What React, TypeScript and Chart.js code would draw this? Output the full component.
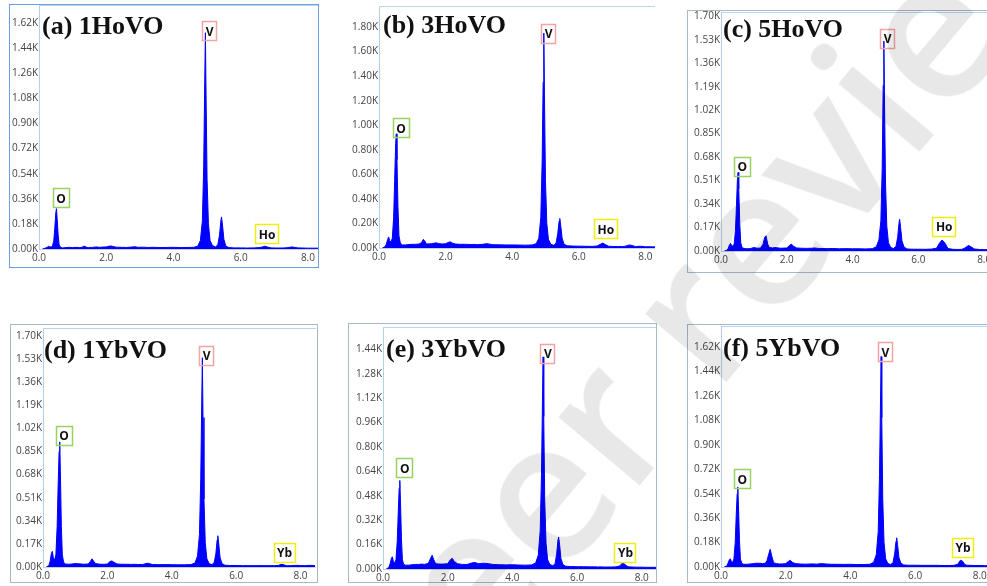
import React, { useEffect, useRef } from 'react';
import { Chart, registerables } from 'chart.js';

Chart.register(...registerables);

// ---------- DATA ----------
// shared energy grid (keV)
const energy = [
  0.10, 0.18, 0.22, 0.26, 0.29, 0.32, 0.36, 0.40, 0.44, 0.47, 0.50, 0.52, 0.54, 0.57, 0.60, 0.64, 0.70,
  0.80, 0.90, 1.00, 1.10, 1.20, 1.28, 1.33, 1.37, 1.42, 1.47, 1.52, 1.57, 1.63, 1.72, 1.80, 1.90, 2.00, 2.08, 2.14, 2.20, 2.30, 2.45, 2.60, 2.75, 2.85, 2.95, 3.10, 3.25, 3.40, 3.60, 3.80, 4.00, 4.20, 4.40, 4.60,
  4.72, 4.80, 4.86, 4.90, 4.93, 4.95, 4.97, 5.00, 5.04, 5.09, 5.16, 5.25, 5.32, 5.37, 5.41, 5.43, 5.46, 5.50, 5.56, 5.65,
  5.80, 6.00, 6.20, 6.40, 6.55, 6.65, 6.72, 6.80, 6.90, 7.05, 7.20, 7.32, 7.40, 7.46, 7.53, 7.60, 7.70, 7.85, 8.00, 8.15, 8.30, 8.45,
];

// counts (K)
const counts1HoVO = [
  0, 0.005, 0.01, 0.015, 0.02, 0.015, 0.015, 0.02, 0.06, 0.15, 0.26, 0.29, 0.22, 0.10, 0.03, 0.012, 0.008,
  0.01, 0.012, 0.01, 0.012, 0.01, 0.012, 0.02, 0.018, 0.012, 0.01, 0.012, 0.011, 0.013, 0.015, 0.012, 0.014, 0.015, 0.02, 0.022, 0.018, 0.013, 0.012, 0.011, 0.014, 0.016, 0.012, 0.013, 0.011, 0.012, 0.01, 0.011, 0.012, 0.01, 0.011, 0.012,
  0.02, 0.06, 0.2, 0.6, 1.2, 1.55, 1.1, 0.5, 0.18, 0.06, 0.025, 0.015, 0.03, 0.1, 0.2, 0.23, 0.17, 0.07, 0.02, 0.01,
  0.008, 0.008, 0.007, 0.008, 0.01, 0.015, 0.02, 0.014, 0.008, 0.007, 0.007, 0.008, 0.01, 0.012, 0.015, 0.012, 0.008, 0.007, 0.006, 0.006, 0.006, 0.006,
];
const counts3HoVO = [
  0, 0.01, 0.03, 0.07, 0.09, 0.06, 0.05, 0.08, 0.25, 0.55, 0.85, 0.93, 0.72, 0.33, 0.1, 0.04, 0.025,
  0.025, 0.028, 0.03, 0.03, 0.032, 0.045, 0.07, 0.06, 0.035, 0.033, 0.035, 0.034, 0.038, 0.042, 0.035, 0.033, 0.035, 0.045, 0.05, 0.04, 0.032, 0.03, 0.03, 0.028, 0.029, 0.027, 0.03, 0.035, 0.027, 0.026, 0.025, 0.025, 0.024, 0.023, 0.025,
  0.035, 0.08, 0.25, 0.7, 1.35, 1.75, 1.25, 0.55, 0.2, 0.07, 0.03, 0.022, 0.04, 0.12, 0.22, 0.24, 0.18, 0.08, 0.03, 0.018,
  0.016, 0.015, 0.014, 0.013, 0.016, 0.03, 0.04, 0.028, 0.014, 0.012, 0.012, 0.012, 0.015, 0.02, 0.025, 0.02, 0.012, 0.014, 0.01, 0.01, 0.009, 0.009,
];
const counts5HoVO = [
  0, 0.005, 0.02, 0.045, 0.055, 0.04, 0.035, 0.05, 0.15, 0.33, 0.52, 0.57, 0.45, 0.2, 0.06, 0.025, 0.018,
  0.016, 0.018, 0.025, 0.02, 0.022, 0.05, 0.1, 0.11, 0.05, 0.025, 0.024, 0.022, 0.025, 0.023, 0.02, 0.021, 0.022, 0.04, 0.05, 0.035, 0.022, 0.02, 0.019, 0.02, 0.022, 0.019, 0.018, 0.017, 0.018, 0.016, 0.017, 0.016, 0.016, 0.015, 0.017,
  0.03, 0.08, 0.22, 0.6, 1.2, 1.52, 1.1, 0.5, 0.18, 0.06, 0.025, 0.018, 0.035, 0.1, 0.2, 0.23, 0.17, 0.075, 0.03, 0.015,
  0.013, 0.013, 0.012, 0.014, 0.02, 0.06, 0.08, 0.06, 0.018, 0.012, 0.011, 0.012, 0.02, 0.03, 0.04, 0.03, 0.015, 0.011, 0.01, 0.01, 0.009, 0.009,
];
const counts1YbVO = [
  0, 0.01, 0.04, 0.1, 0.115, 0.07, 0.05, 0.09, 0.3, 0.6, 0.85, 0.92, 0.7, 0.3, 0.09, 0.035, 0.022,
  0.02, 0.022, 0.025, 0.024, 0.022, 0.02, 0.022, 0.021, 0.025, 0.04, 0.06, 0.045, 0.025, 0.022, 0.02, 0.02, 0.022, 0.04, 0.045, 0.035, 0.022, 0.02, 0.02, 0.019, 0.02, 0.018, 0.019, 0.028, 0.018, 0.017, 0.018, 0.017, 0.016, 0.016, 0.018,
  0.03, 0.08, 0.24, 0.65, 1.2, 1.54, 1.1, 0.5, 0.18, 0.06, 0.025, 0.017, 0.035, 0.1, 0.2, 0.23, 0.17, 0.07, 0.025, 0.013,
  0.011, 0.011, 0.01, 0.01, 0.01, 0.01, 0.011, 0.01, 0.01, 0.01, 0.01, 0.012, 0.02, 0.018, 0.012, 0.01, 0.01, 0.012, 0.011, 0.01, 0.012, 0.01,
];
const counts3YbVO = [
  0, 0.01, 0.035, 0.07, 0.08, 0.05, 0.04, 0.06, 0.18, 0.36, 0.53, 0.58, 0.45, 0.2, 0.06, 0.03, 0.025,
  0.025, 0.028, 0.03, 0.03, 0.032, 0.03, 0.033, 0.035, 0.045, 0.07, 0.09, 0.06, 0.035, 0.033, 0.032, 0.033, 0.035, 0.06, 0.07, 0.05, 0.035, 0.03, 0.03, 0.04, 0.042, 0.035, 0.038, 0.035, 0.03, 0.028, 0.027, 0.028, 0.026, 0.025, 0.027,
  0.04, 0.09, 0.25, 0.62, 1.1, 1.39, 1.0, 0.45, 0.17, 0.06, 0.03, 0.022, 0.035, 0.1, 0.19, 0.21, 0.16, 0.07, 0.03, 0.018,
  0.016, 0.015, 0.015, 0.014, 0.014, 0.013, 0.014, 0.013, 0.013, 0.013, 0.014, 0.02, 0.04, 0.035, 0.02, 0.014, 0.013, 0.012, 0.012, 0.011, 0.011, 0.011,
];
const counts5YbVO = [
  0, 0.008, 0.03, 0.055, 0.06, 0.04, 0.035, 0.06, 0.18, 0.38, 0.54, 0.59, 0.46, 0.2, 0.06, 0.028, 0.02,
  0.02, 0.022, 0.025, 0.028, 0.027, 0.025, 0.026, 0.028, 0.045, 0.09, 0.13, 0.08, 0.03, 0.025, 0.022, 0.023, 0.025, 0.04, 0.05, 0.035, 0.025, 0.022, 0.021, 0.022, 0.023, 0.021, 0.025, 0.022, 0.02, 0.02, 0.019, 0.02, 0.018, 0.018, 0.02,
  0.035, 0.09, 0.26, 0.68, 1.2, 1.55, 1.1, 0.5, 0.18, 0.06, 0.025, 0.018, 0.035, 0.1, 0.19, 0.215, 0.16, 0.07, 0.028, 0.015,
  0.013, 0.013, 0.012, 0.012, 0.012, 0.012, 0.012, 0.011, 0.011, 0.011, 0.012, 0.02, 0.05, 0.045, 0.02, 0.013, 0.012, 0.011, 0.011, 0.01, 0.01, 0.01,
];

// tick values
const xTicks = [0, 2, 4, 6, 8];
const yTicksStep18 = [0, 0.18, 0.36, 0.54, 0.72, 0.9, 1.08, 1.26, 1.44, 1.62];
const yTicksStep20 = [0, 0.2, 0.4, 0.6, 0.8, 1.0, 1.2, 1.4, 1.6, 1.8];
const yTicksStep17 = [0, 0.17, 0.34, 0.51, 0.68, 0.85, 1.02, 1.19, 1.36, 1.53, 1.7];
const yTicksStep16 = [0, 0.16, 0.32, 0.48, 0.64, 0.8, 0.96, 1.12, 1.28, 1.44];

const titles = ['(a) 1HoVO', '(b) 3HoVO', '(c) 5HoVO', '(d) 1YbVO', '(e) 3YbVO', '(f) 5YbVO'];

const GREEN = '#97d45c';
const RED = '#f2a4a4';
const YELLOW = '#eeee10';

type Lbl = { t: string; x: number; y: number; c: string };
type Box = { l: number; t: number; r: number; b: number };
type PanelCfg = {
  title: string;
  counts: number[];
  yTicks: number[];
  xMax: number;
  yMax: number;
  plot: Box;
  frame: (Box & { color: string }) | null;
  titleDx: number;
  titleDy: number;
  labels: Lbl[];
};

const panels: PanelCfg[] = [
  {
    title: titles[0], counts: counts1HoVO, yTicks: yTicksStep18, xMax: 8.3, yMax: 1.749,
    plot: { l: 39, t: 5, r: 318, b: 249 },
    frame: { l: 9, t: 4, r: 319, b: 268, color: '#6e9fd9' },
    titleDx: 3, titleDy: 29,
    labels: [
      { t: 'O', x: 0.64, y: 0.366, c: GREEN },
      { t: 'V', x: 5.06, y: 1.563, c: RED },
      { t: 'Ho', x: 6.77, y: 0.108, c: YELLOW },
    ],
  },
  {
    title: titles[1], counts: counts3HoVO, yTicks: yTicksStep20, xMax: 8.29, yMax: 1.971,
    plot: { l: 379, t: 6, r: 655, b: 248 },
    frame: null,
    titleDx: 4, titleDy: 27,
    labels: [
      { t: 'O', x: 0.65, y: 0.979, c: GREEN },
      { t: 'V', x: 5.08, y: 1.748, c: RED },
      { t: 'Ho', x: 6.8, y: 0.155, c: YELLOW },
    ],
  },
  {
    title: titles[2], counts: counts5HoVO, yTicks: yTicksStep17, xMax: 8.42, yMax: 1.731,
    plot: { l: 721, t: 12, r: 998, b: 251 },
    frame: { l: 687, t: 10, r: 1010, b: 273, color: '#a8b8cd' },
    titleDx: 2, titleDy: 25,
    labels: [
      { t: 'O', x: 0.63, y: 0.614, c: GREEN },
      { t: 'V', x: 5.05, y: 1.541, c: RED },
      { t: 'Ho', x: 6.77, y: 0.181, c: YELLOW },
    ],
  },
  {
    title: titles[3], counts: counts1YbVO, yTicks: yTicksStep17, xMax: 8.48, yMax: 1.759,
    plot: { l: 43, t: 328, r: 316, b: 567 },
    frame: { l: 10, t: 324, r: 318, b: 583, color: '#a8b8cd' },
    titleDx: 1, titleDy: 30,
    labels: [
      { t: 'O', x: 0.64, y: 0.968, c: GREEN },
      { t: 'V', x: 5.07, y: 1.56, c: RED },
      { t: 'Yb', x: 7.49, y: 0.109, c: YELLOW },
    ],
  },
  {
    title: titles[4], counts: counts3YbVO, yTicks: yTicksStep16, xMax: 8.44, yMax: 1.586,
    plot: { l: 383, t: 327, r: 656, b: 569 },
    frame: { l: 348, t: 323, r: 657, b: 583, color: '#a8b8cd' },
    titleDx: 3, titleDy: 30,
    labels: [
      { t: 'O', x: 0.655, y: 0.663, c: GREEN },
      { t: 'V', x: 5.08, y: 1.412, c: RED },
      { t: 'Yb', x: 7.48, y: 0.111, c: YELLOW },
    ],
  },
  {
    title: titles[5], counts: counts5YbVO, yTicks: yTicksStep18, xMax: 8.47, yMax: 1.775,
    plot: { l: 721, t: 326, r: 995, b: 567 },
    frame: { l: 687, t: 324, r: 1010, b: 583, color: '#a8b8cd' },
    titleDx: 2, titleDy: 30,
    labels: [
      { t: 'O', x: 0.643, y: 0.65, c: GREEN },
      { t: 'V', x: 5.07, y: 1.585, c: RED },
      { t: 'Yb', x: 7.47, y: 0.144, c: YELLOW },
    ],
  },
];

const YW = 40;
const XH = 18;
const PT = 8;

function Panel({ p }: { p: PanelCfg }) {
  const ref = useRef<HTMLCanvasElement>(null);
  const w = YW + (p.plot.r - p.plot.l);
  const h = PT + (p.plot.b - p.plot.t) + XH;

  useEffect(() => {
    const decor = {
      id: 'decor',
      afterDatasetsDraw(chart: any) {
        const { ctx, chartArea, scales } = chart;
        ctx.save();
        ctx.strokeStyle = '#bcd5ee';
        ctx.lineWidth = 1;
        ctx.beginPath();
        ctx.moveTo(chartArea.left, chartArea.top + 0.5);
        ctx.lineTo(chartArea.right, chartArea.top + 0.5);
        ctx.stroke();

        ctx.fillStyle = '#111';
        ctx.font = 'bold 26px "Liberation Serif", "Times New Roman", serif';
        ctx.textAlign = 'left';
        ctx.textBaseline = 'alphabetic';
        ctx.fillText(p.title, chartArea.left + p.titleDx, chartArea.top + p.titleDy);

        ctx.font = 'bold 12px "Open Sans", sans-serif';
        ctx.textAlign = 'center';
        ctx.textBaseline = 'middle';
        for (const L of p.labels) {
          const cx = scales.x.getPixelForValue(L.x);
          const cy = scales.y.getPixelForValue(L.y);
          const tw = ctx.measureText(L.t).width;
          const bw = Math.round(tw + 6);
          const bh = 19;
          ctx.lineWidth = 1.5;
          ctx.strokeStyle = L.c;
          ctx.strokeRect(Math.round(cx - bw / 2) + 0.5, Math.round(cy - bh / 2) + 0.5, bw, bh);
          ctx.fillStyle = '#111';
          ctx.fillText(L.t, cx + 0.5, cy + 1.5);
        }
        ctx.restore();
      },
    };

    const chart = new Chart(ref.current as HTMLCanvasElement, {
      type: 'line',
      data: {
        datasets: [
          {
            data: energy.map((e, i) => ({ x: e, y: p.counts[i] })),
            borderColor: '#0000ff',
            backgroundColor: '#0000ff',
            borderWidth: 1,
            pointRadius: 0,
            fill: 'origin',
            tension: 0,
          },
        ],
      },
      options: {
        animation: false,
        responsive: false,
        devicePixelRatio: 1,
        events: [],
        layout: { padding: { top: PT, left: 0, right: 0, bottom: 0 }, autoPadding: false },
        plugins: { legend: { display: false }, tooltip: { enabled: false }, title: { display: false } },
        scales: {
          x: {
            type: 'linear',
            min: 0,
            max: p.xMax,
            grid: { display: false, drawTicks: false, tickLength: 0 },
            border: { display: true, color: '#c3d0de', width: 1 },
            ticks: {
              padding: 3,
              color: '#444',
              autoSkip: false,
              maxRotation: 0,
              font: { family: '"Open Sans", sans-serif', size: 10 },
              callback: (v: any) => Number(v).toFixed(1),
            },
            afterBuildTicks: (s: any) => {
              s.ticks = xTicks.map((v) => ({ value: v }));
            },
            afterFit: (s: any) => {
              s.height = XH;
              s.paddingLeft = 0;
              s.paddingRight = 0;
            },
          },
          y: {
            type: 'linear',
            min: 0,
            max: p.yMax,
            grid: { display: false, drawTicks: false, tickLength: 0 },
            border: { display: true, color: '#b2cfec', width: 1 },
            ticks: {
              padding: 1,
              color: '#444',
              autoSkip: false,
              font: { family: '"Open Sans", sans-serif', size: 10 },
              callback: (v: any) => Number(v).toFixed(2) + 'K',
            },
            afterBuildTicks: (s: any) => {
              s.ticks = p.yTicks.map((v) => ({ value: v }));
            },
            afterFit: (s: any) => {
              s.width = YW;
              s.paddingTop = 0;
              s.paddingBottom = 0;
            },
          },
        },
      } as any,
      plugins: [decor],
    });
    return () => chart.destroy();
  }, []);

  return (
    <>
      {p.frame && (
        <div
          style={{
            position: 'absolute',
            left: p.frame.l,
            top: p.frame.t,
            width: p.frame.r - p.frame.l,
            height: p.frame.b - p.frame.t,
            border: `1px solid ${p.frame.color}`,
            boxSizing: 'border-box',
          }}
        />
      )}
      <canvas
        ref={ref}
        width={w}
        height={h}
        style={{ position: 'absolute', left: p.plot.l - YW, top: p.plot.t - PT, width: w, height: h }}
      />
    </>
  );
}

export default function App() {
  return (
    <div
      style={{
        position: 'fixed',
        left: 0,
        top: 0,
        width: 987,
        height: 586,
        overflow: 'hidden',
        background: '#fff',
      }}
    >
      {panels.map((p, i) => (
        <Panel key={i} p={p} />
      ))}
      <div
        style={{
          position: 'absolute',
          left: 705,
          top: 290,
          transform: 'translate(-50%, -50%) rotate(-50deg)',
          fontFamily: '"Open Sans", sans-serif',
          fontWeight: 600,
          fontSize: 195,
          color: 'rgba(0,0,0,0.09)',
          whiteSpace: 'nowrap',
          pointerEvents: 'none',
          lineHeight: 1,
        }}
      >
        peer review
      </div>
    </div>
  );
}
